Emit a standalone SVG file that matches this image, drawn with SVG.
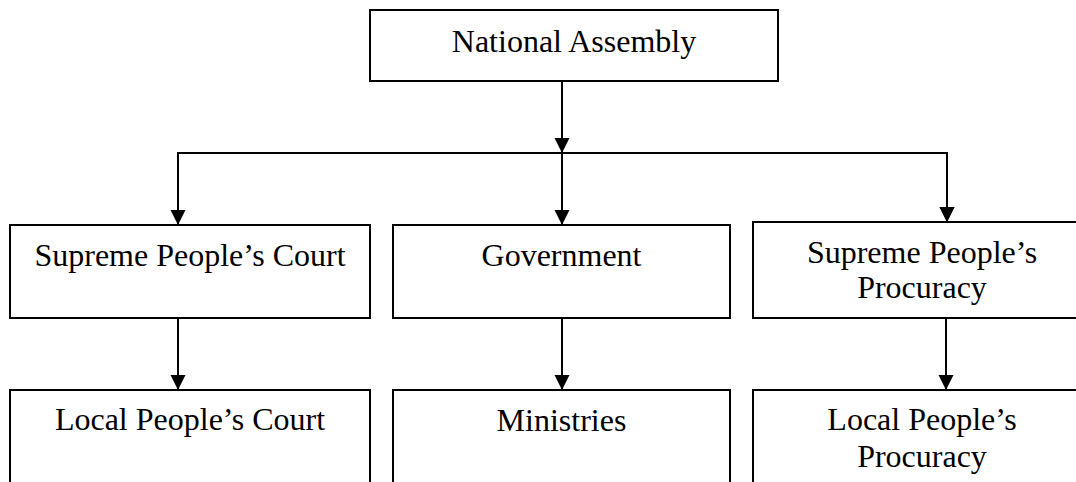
<svg xmlns="http://www.w3.org/2000/svg" width="1076" height="482" viewBox="0 0 1076 482">
<style>
.box{fill:#fff;stroke:#000;stroke-width:2}
.lbl{font-family:"Liberation Serif","Times New Roman",serif;font-size:32px;fill:#000;text-anchor:middle}
.con{fill:none;stroke:#000;stroke-width:2}
</style>
<defs>
<marker id="arr" markerUnits="userSpaceOnUse" markerWidth="16" markerHeight="16" viewBox="0 0 16 16" refX="15" refY="8" orient="auto">
<path d="M0,0.5 L15,8 L0,15.5 z" fill="#000"/>
</marker>
</defs>
<rect width="1076" height="482" fill="#fff"/>
<g id="connectors">
<line class="con" x1="562" y1="81" x2="562" y2="153" marker-end="url(#arr)"/>
<polyline class="con" points="178,225 178,153 947,153 947,222" marker-end="url(#arr)"/>
<line class="con" x1="178" y1="160" x2="178" y2="225" marker-end="url(#arr)"/>
<line class="con" x1="562" y1="153" x2="562" y2="225" marker-end="url(#arr)"/>
<line class="con" x1="947" y1="160" x2="947" y2="222" marker-end="url(#arr)"/>
<line class="con" x1="178" y1="318" x2="178" y2="390" marker-end="url(#arr)"/>
<line class="con" x1="562" y1="318" x2="562" y2="390" marker-end="url(#arr)"/>
<line class="con" x1="946" y1="318" x2="946" y2="390" marker-end="url(#arr)"/>
</g>
<g id="national-assembly">
<rect class="box" x="370" y="10" width="408" height="71"/>
<text class="lbl" x="574" y="52">National Assembly</text>
</g>
<g id="supreme-court">
<rect class="box" x="10" y="225" width="360" height="93"/>
<text class="lbl" x="190" y="266">Supreme People’s Court</text>
</g>
<g id="government">
<rect class="box" x="393" y="225" width="337" height="93"/>
<text class="lbl" x="561.5" y="266">Government</text>
</g>
<g id="supreme-procuracy">
<rect class="box" x="753" y="222" width="340" height="96"/>
<text class="lbl" x="922" y="263">Supreme People’s</text>
<text class="lbl" x="922" y="298">Procuracy</text>
</g>
<g id="local-court">
<rect class="box" x="10" y="390" width="360" height="120"/>
<text class="lbl" x="190" y="430">Local People’s Court</text>
</g>
<g id="ministries">
<rect class="box" x="393" y="390" width="337" height="120"/>
<text class="lbl" x="561.5" y="431">Ministries</text>
</g>
<g id="local-procuracy">
<rect class="box" x="753" y="390" width="340" height="120"/>
<text class="lbl" x="922" y="430">Local People’s</text>
<text class="lbl" x="922" y="467">Procuracy</text>
</g>
</svg>
